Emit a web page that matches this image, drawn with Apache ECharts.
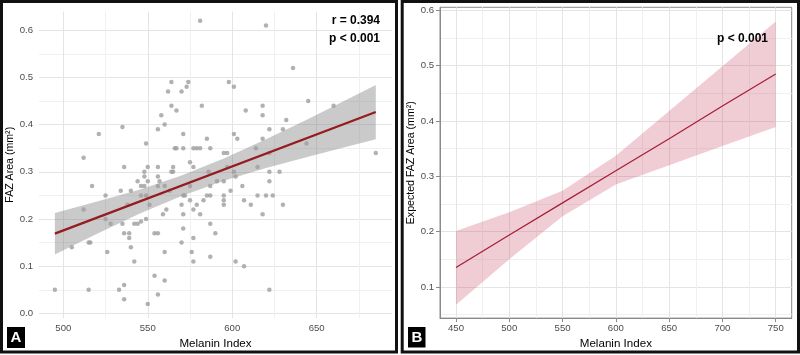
<!DOCTYPE html>
<html><head><meta charset="utf-8">
<script src="https://cdn.jsdelivr.net/npm/echarts@6/dist/echarts.min.js"></script>
<style>html,body{margin:0;padding:0;background:#fff}#c{width:800px;height:355px}</style>
</head><body><div id="c"></div>
<script>
// ---------- Panel A: observed data ----------
const melaninA = [581,564,574,562,570,573,564,567,582,558,560,556,535,521,571,585,549,566,567,571,577,579,581,587,512,536,550,556,565,564,565,575,577,548,548,556,557,544,550,546,548,556,560,517,540,534,563,525,546,549,571,572,575,538,551,512,561,559,570,575,583,579,577,571,581,585,587,587,586,591,525,549,546,542,544,528,535,587,571,536,539,554,556,590,539,577,515,516,570,505,540,526,560,576,587,542,577,554,560,536,495,515,533,556,536,550,
620,636,598,601,645,660,608,618,618,632,622,630,601,603,618,644,685,595,597,614,622,615,597,601,622,628,602,595,622,606,599,595,615,620,624,595,607,595,611,630,618,602,607,622];
const fazA = [0.62,0.49,0.49,0.47,0.47,0.48,0.44,0.43,0.44,0.42,0.40,0.39,0.395,0.38,0.38,0.37,0.36,0.35,0.35,0.35,0.35,0.35,0.35,0.35,0.33,0.31,0.31,0.31,0.31,0.30,0.30,0.32,0.31,0.30,0.29,0.29,0.28,0.28,0.28,0.27,0.27,0.27,0.27,0.27,0.26,0.26,0.26,0.25,0.25,0.25,0.25,0.25,0.27,0.23,0.23,0.22,0.22,0.21,0.23,0.24,0.24,0.23,0.22,0.21,0.21,0.25,0.25,0.27,0.30,0.28,0.20,0.20,0.195,0.19,0.19,0.19,0.19,0.19,0.18,0.17,0.17,0.17,0.17,0.17,0.16,0.16,0.15,0.15,0.15,0.14,0.14,0.13,0.13,0.13,0.12,0.11,0.11,0.08,0.07,0.06,0.05,0.05,0.05,0.04,0.03,0.02,
0.61,0.52,0.49,0.48,0.45,0.44,0.43,0.44,0.42,0.41,0.39,0.39,0.38,0.37,0.37,0.36,0.34,0.34,0.34,0.35,0.34,0.31,0.31,0.30,0.30,0.30,0.29,0.28,0.28,0.27,0.26,0.25,0.25,0.25,0.25,0.24,0.24,0.23,0.23,0.23,0.21,0.11,0.10,0.05];
const fitXA = [495, 685];
const fitYA = [0.169, 0.4265];
const bandXA = [495,520,545,570,595,620,645,670,685];
const bandUpperA = [0.213,0.237,0.262,0.292,0.328,0.369,0.412,0.457,0.484];
const bandLowerA = [0.125,0.169,0.211,0.249,0.281,0.308,0.332,0.355,0.369];
const xTicksA = [500,550,600,650];
const xMinorA = [525,575,625,675];
const yTicksA = [0,0.1,0.2,0.3,0.4,0.5,0.6];
const yMinorA = [0.05,0.15,0.25,0.35,0.45,0.55];

// ---------- Panel B: model predictions ----------
const melaninB = [450,500,550,600,650,700,750];
const expectedB = [0.135,0.194,0.252,0.310,0.368,0.427,0.485];
const upperB = [0.201,0.235,0.274,0.337,0.418,0.499,0.580];
const lowerB = [0.068,0.150,0.228,0.285,0.320,0.355,0.389];
const xTicksB = [450,500,550,600,650,700,750];
const xMinorB = [475,525,575,625,675,725];
const yTicksB = [0.1,0.2,0.3,0.4,0.5,0.6];
const yMinorB = [0.05,0.15,0.25,0.35,0.45,0.55];

const FONT = '"Liberation Sans", Arial, Helvetica, sans-serif';
const tickCol = '#4d4d4d';
const majorGrid = '#e4e4e4';
const minorGrid = '#f0f0f0';
const borderCol = '#8a8a8a';

function pairs(xs, ys){ return xs.map((x,i)=>[x, ys[i]]); }

function majorX(grid, min, max, ticks, opts){
  return Object.assign({
    gridIndex: grid, type:'value', min, max, position:'bottom',
    axisLine:{show:false},
    axisTick:{show:false, customValues: ticks},
    axisLabel:{customValues: ticks, color: tickCol, fontSize: 9.6, fontFamily: FONT, margin: 5},
    splitLine:{show:true, lineStyle:{color: majorGrid, width:1}},
    name:'Melanin Index', nameLocation:'middle', nameGap:15,
    nameTextStyle:{color:'#000', fontSize:11.6, fontFamily: FONT}
  }, opts||{});
}
function minorAxis(kind, grid, min, max, ticks){
  return {
    gridIndex: grid, type:'value', min, max, position: kind==='x' ? 'bottom' : 'left',
    axisLine:{show:false}, axisTick:{show:false, customValues: ticks},
    axisLabel:{show:false}, name:'',
    splitLine:{show:true, lineStyle:{color: minorGrid, width:1}}
  };
}
function majorY(grid, min, max, ticks, name, gap, opts){
  return Object.assign({
    gridIndex: grid, type:'value', min, max, position:'left',
    axisLine:{show:false},
    axisTick:{show:false, customValues: ticks},
    axisLabel:{customValues: ticks, color: tickCol, fontSize: 9.6, fontFamily: FONT, margin: 6,
      formatter: v => v.toFixed(1)},
    splitLine:{show:true, lineStyle:{color: majorGrid, width:1}},
    name, nameLocation:'middle', nameGap: gap,
    nameTextStyle:{color:'#000', fontSize:10.6, fontFamily: FONT}
  }, opts||{});
}

const axisLineB = {show:true, onZero:false, lineStyle:{color: borderCol, width:1}};
const axisTickB = (ticks)=>({show:true, customValues: ticks, length:4, lineStyle:{color: borderCol}});

// ribbon drawn as one polygon through the axis scales
function ribbon(xIdx, yIdx, xs, up, lo, fill){
  return {
    type:'custom', xAxisIndex:xIdx, yAxisIndex:yIdx, silent:true, clip:true,
    data: pairs(xs, up),
    renderItem: function(params, api){
      if (params.dataIndex !== 0) return;
      const top = xs.map((x,i)=>api.coord([x, up[i]]));
      const bot = xs.map((x,i)=>api.coord([x, lo[i]])).reverse();
      return {type:'polygon', shape:{points: top.concat(bot)}, style:{fill: fill}};
    }
  };
}

const option = {
  animation: false,
  backgroundColor: '#fff',
  grid: [
    {left:39, top:11.5, width:353, height:308.5},
    {left:440, top:7.3, width:351.7, height:312, show:true, borderColor: borderCol, borderWidth:1, backgroundColor:'transparent'}
  ],
  xAxis: [
    majorX(0, 485.6, 694.6, xTicksA),
    minorAxis('x', 0, 485.6, 694.6, xMinorA),
    majorX(1, 435, 765, xTicksB, {axisLine: axisLineB, axisTick: axisTickB(xTicksB)}),
    minorAxis('x', 1, 435, 765, xMinorB)
  ],
  yAxis: [
    majorY(0, -0.0099, 0.6396, yTicksA, 'FAZ Area (mm²)', 19),
    minorAxis('y', 0, -0.0099, 0.6396, yMinorA),
    majorY(1, 0.0437, 0.6055, yTicksB, 'Expected FAZ Area (mm²)', 23, {axisLine: axisLineB, axisTick: axisTickB(yTicksB)}),
    minorAxis('y', 1, 0.0437, 0.6055, yMinorB)
  ],
  series: [
    {type:'scatter', xAxisIndex:0, yAxisIndex:0, data: pairs(melaninA, fazA),
      symbolSize:4.5, itemStyle:{color:'#9e9e9e'}, silent:true},
    ribbon(0, 0, bandXA, bandUpperA, bandLowerA, 'rgba(128,128,128,0.42)'),
    {type:'line', xAxisIndex:0, yAxisIndex:0, data: pairs(fitXA, fitYA),
      symbol:'none', lineStyle:{color:'#961b1f', width:2.2}, silent:true},

    ribbon(2, 2, melaninB, upperB, lowerB, 'rgba(196,52,84,0.25)'),
    {type:'line', xAxisIndex:2, yAxisIndex:2, data: pairs(melaninB, expectedB),
      symbol:'none', lineStyle:{color:'#a51d36', width:1.2}, silent:true}
  ],
  graphic: [
    {type:'rect', z:100, shape:{x:1.5, y:1.5, width:395, height:350.5}, style:{fill:'none', stroke:'#111', lineWidth:3}},
    {type:'rect', z:100, shape:{x:402.2, y:1.5, width:396.3, height:350.5}, style:{fill:'none', stroke:'#111', lineWidth:3}},
    {type:'rect', z:100, shape:{x:7, y:327, width:18, height:21}, style:{fill:'#000'}},
    {type:'text', z:101, x:16, y:337.8, style:{text:'A', fill:'#fff', fontSize:15, fontWeight:'bold', fontFamily:FONT, align:'center', verticalAlign:'middle'}},
    {type:'rect', z:100, shape:{x:408, y:327, width:17.5, height:20.5}, style:{fill:'#000'}},
    {type:'text', z:101, x:416.8, y:337.5, style:{text:'B', fill:'#fff', fontSize:15, fontWeight:'bold', fontFamily:FONT, align:'center', verticalAlign:'middle'}},
    {type:'text', z:101, x:380, y:20.7, style:{text:'r = 0.394', fill:'#000', fontSize:12, fontWeight:'bold', fontFamily:FONT, align:'right', verticalAlign:'middle'}},
    {type:'text', z:101, x:380, y:38.3, style:{text:'p < 0.001', fill:'#000', fontSize:12, fontWeight:'bold', fontFamily:FONT, align:'right', verticalAlign:'middle'}},
    {type:'text', z:101, x:768, y:38.3, style:{text:'p < 0.001', fill:'#000', fontSize:12, fontWeight:'bold', fontFamily:FONT, align:'right', verticalAlign:'middle'}}
  ]
};
const chart = echarts.init(document.getElementById('c'), null, {renderer:'canvas'});
chart.setOption(option);
</script></body></html>
